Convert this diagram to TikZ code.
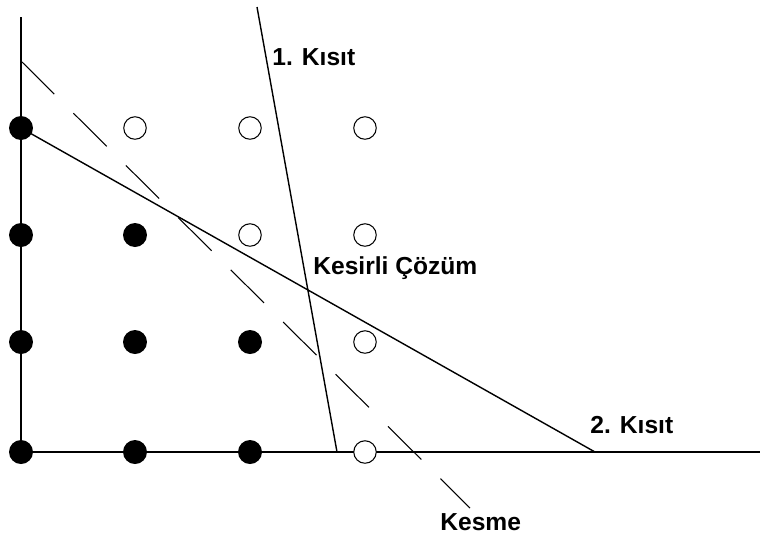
\documentclass[tikz,border=0pt]{standalone}
\usepackage{fontspec}
\setmainfont{Liberation Sans}
\tikzset{
    dotfull/.style={circle, fill=black, inner sep=0pt, minimum size=0.48cm},
    dotopen/.style={circle, draw=black, fill=white, inner sep=0pt, minimum size=0.45cm, line width=0.6pt},
    axisline/.style={line width=1.1pt},
    limit/.style={line width=0.8pt},
    cutline/.style={line width=0.6pt, dash pattern=on 0.94cm off 0.54cm},
    lbl/.style={anchor=base west, inner sep=0pt, font=\fontsize{14}{16}\selectfont\bfseries}
}
\begin{document}
\begin{tikzpicture}[x=0.02cm, y=-0.02cm]
\useasboundingbox (0,0) rectangle (760,538);

% === AXES ===
\coordinate (ytop) at (21,17);
\coordinate (orig) at (21,452);
\coordinate (xend) at (760,452);
\draw[axisline] (ytop) -- (orig) -- (xend);

% === INTEGER POINTS ===
% row y=128
\node[dotfull] (p03) at (21,128) {};
\node[dotopen] (p13) at (135,128) {};
\node[dotopen] (p23) at (250,128) {};
\node[dotopen] (p33) at (365,128) {};
% row y=235
\node[dotfull] (p02) at (21,235) {};
\node[dotfull] (p12) at (135,235) {};
\node[dotopen] (p22) at (250,235) {};
\node[dotopen] (p32) at (365,235) {};
% row y=342
\node[dotfull] (p01) at (21,342) {};
\node[dotfull] (p11) at (135,342) {};
\node[dotfull] (p21) at (250,342) {};
\node[dotopen] (p31) at (365,342) {};
% row y=452
\node[dotfull] (p00) at (21,452) {};
\node[dotfull] (p10) at (135,452) {};
\node[dotfull] (p20) at (250,452) {};
\node[dotopen] (p30) at (365,452) {};

% === CUT (dashed) ===
\coordinate (cuta) at (21,61);
\coordinate (cutb) at (470,508);
\draw[cutline] (cuta) -- (cutb);

% === CONSTRAINTS ===
\coordinate (k1a) at (257,7);
\coordinate (k1b) at (337,452);
\coordinate (k2b) at (595,452);
\draw[limit] (k1a) -- (k1b);
\draw[limit] (p03.center) -- (k2b);

% === LABELS ===
\node[lbl] (lk1) at (272,65) {1. Kısıt};
\node[lbl] (lsol) at (313,274) {Kesirli Çözüm};
\node[lbl] (lk2) at (590,433) {2. Kısıt};
\node[lbl] (lcut) at (440,530) {Kesme};

\end{tikzpicture}
\end{document}
